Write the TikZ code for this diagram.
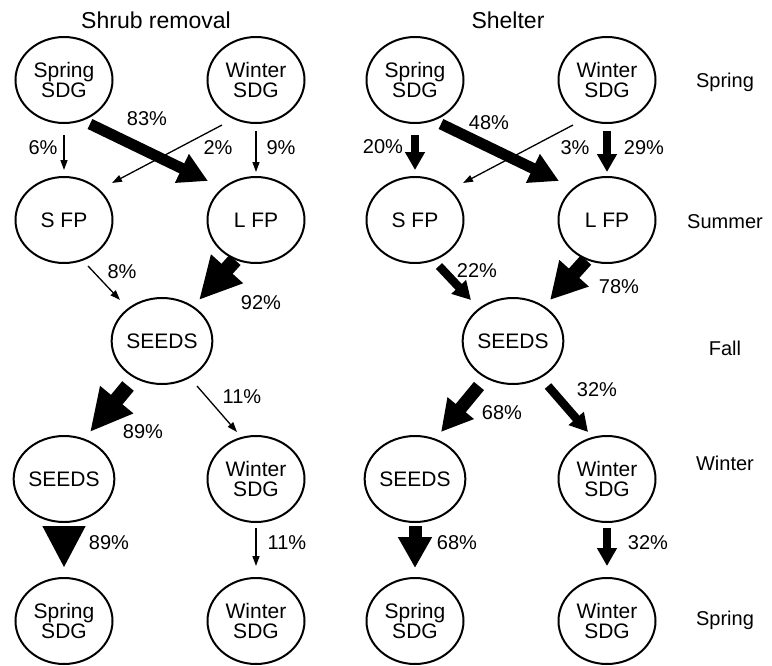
\documentclass[tikz,border=0pt]{standalone}
\usepackage{fontspec}
\setmainfont{Liberation Sans}
\usetikzlibrary{arrows.meta,calc,shapes.geometric}
\tikzset{
  stage/.style   = {ellipse, draw, line width=2pt, minimum width=97pt, minimum height=86pt,
                    inner sep=0pt, align=center, font=\fontsize{21}{20}\selectfont},
  pct/.style     = {inner sep=0pt, font=\fontsize{20}{20}\selectfont},
  heading/.style = {inner sep=0pt, font=\fontsize{23}{23}\selectfont},
  season/.style  = {inner sep=0pt, font=\fontsize{20}{20}\selectfont},
  flow/.style n args = {3}{line width=#1, -{Triangle[width=#2, length=#3]}},
  weak/.style    = {flow={1.3pt}{7pt}{10pt}},
  medium/.style  = {flow={8.5pt}{19pt}{18pt}},
  strong/.style  = {flow={11pt}{30pt}{29pt}},
  heavy/.style   = {flow={13pt}{32pt}{31pt}},
  wide/.style    = {flow={14pt}{37pt}{36pt}},
  huge/.style    = {flow={15pt}{40pt}{42pt}}
}

\begin{document}
\begin{tikzpicture}[x=1pt,y=1pt]
\useasboundingbox (0,0) rectangle (772,-665);

% --- treatment headings ---
\node[heading] (hshrub)   at (156,-20) {Shrub removal};
\node[heading] (hshelter) at (508,-20) {Shelter};

% --- seasons (right margin) ---
\foreach \y/\name [count=\i] in {-82/Spring, -222/Summer, -348/Fall, -463/Winter, -620/Spring}{
  \node[season] (season\i) at (725,\y) {\name};
}

% --- life stages, one set per treatment ---
\foreach \dx [count=\p] in {0,351}{
  \node[stage] (spa\p) at (64+\dx,-80)   {Spring\\SDG};
  \node[stage] (wia\p) at (256+\dx,-80)  {Winter\\SDG};
  \node[stage] (sfp\p) at (64+\dx,-220)  {S FP};
  \node[stage] (lfp\p) at (256+\dx,-220) {L FP};
  \node[stage] (sda\p) at (162+\dx,-341) {SEEDS};
  \node[stage] (sdb\p) at (64+\dx,-479)  {SEEDS};
  \node[stage] (wib\p) at (256+\dx,-479) {Winter\\SDG};
  \node[stage] (spc\p) at (64+\dx,-621)  {Spring\\SDG};
  \node[stage] (wic\p) at (256+\dx,-621) {Winter\\SDG};
}

% --- transitions (arrow weight follows the share) ---
\foreach \p/\sa/\sb/\sc/\sd/\se/\sf/\sg/\sh/\si/\sj in
  {1/weak/strong/weak/weak/weak/huge/huge/weak/huge/weak,
   2/medium/strong/weak/medium/medium/wide/heavy/medium/heavy/medium}{
  \draw[\sa] ($(spa\p)+(0,-55)$)    -- ($(sfp\p)+(0,50)$);
  \draw[\sb] ($(spa\p)+(26,-44)$)   -- ($(lfp\p)+(-48,39)$);
  \draw[\sc] ($(wia\p)+(-34,-45)$)  -- ($(sfp\p)+(48,37)$);
  \draw[\sd] ($(wia\p)+(0,-51)$)    -- ($(lfp\p)+(0,48)$);
  \draw[\se] ($(sfp\p)+(24,-46)$)   -- ($(sda\p)+(-42,41)$);
  \draw[\sf] ($(lfp\p)+(-21,-40)$)  -- ($(sda\p)+(37,41)$);
  \draw[\sg] ($(sda\p)+(-34,-45)$)  -- ($(sdb\p)+(26,47)$);
  \draw[\sh] ($(sda\p)+(35,-45)$)   -- ($(wib\p)+(-19,47)$);
  \draw[\si] ($(sdb\p)+(0,-47)$)    -- ($(spc\p)+(0,53)$);
  \draw[\sj] ($(wib\p)+(0,-49)$)    -- ($(wic\p)+(0,55)$);
}

% --- shares, shrub removal ---
\foreach \x/\y/\v [count=\i] in {43/-148/6, 147/-119/83, 218/-148/2, 281/-148/9, 122/-272/8,
                                  261/-303/92, 143/-432/89, 242/-397/11, 109/-543/89, 287/-543/11}{
  \node[pct] (sharea\i) at (\x,\y) {\v\%};
}

% --- shares, shelter ---
\foreach \x/\y/\v [count=\i] in {383/-147/20, 489/-123/48, 575/-148/3, 644/-148/29, 477/-271/22,
                                  619/-287/78, 502/-413/68, 597/-390/32, 457/-543/68, 648/-543/32}{
  \node[pct] (shareb\i) at (\x,\y) {\v\%};
}

\end{tikzpicture}
\end{document}
